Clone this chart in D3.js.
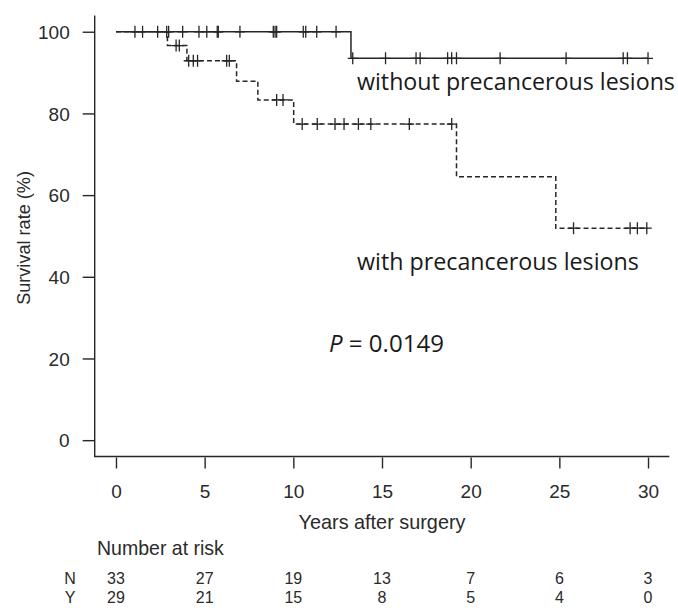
<!DOCTYPE html>
<html>
<head>
<meta charset="utf-8">
<script src="https://cdn.jsdelivr.net/npm/d3@7"></script>
<style>
  html, body { margin: 0; padding: 0; background: #fff; }
  svg { display: block; }
</style>
</head>
<body>
<svg id="chart" width="678" height="608"></svg>
<script>
// ---------------- data ----------------
const groupLabels = ["without precancerous lesions", "with precancerous lesions"];
// step curves (time in years, survival %)
const withoutTimes = [0, 13.25, 30.0];
const withoutSurv  = [100, 93.5, 93.5];
const withTimes = [0, 2.9, 4.0, 6.8, 8.0, 10.02, 19.2, 24.8, 30.0];
const withSurv  = [100, 96.6, 92.9, 87.9, 83.3, 77.4, 64.5, 51.9, 51.9];
// censoring marks (times)
const withoutCensor = [1.07, 1.5, 2.35, 2.86, 2.97, 3.76, 4.68, 5.12, 5.71, 5.77, 6.99,
  8.87, 8.97, 9.06, 10.56, 10.7, 11.32, 12.41,
  13.35, 15.2, 16.92, 17.15, 18.7, 18.93, 19.2, 21.66, 25.38, 28.6, 28.84, 30.0];
const withCensor = [3.39, 3.57, 4.1, 4.36, 4.6, 6.24, 6.39, 9.06, 9.42,
  10.5, 11.35, 12.35, 12.86, 13.67, 14.37, 16.54, 18.93, 25.8, 28.99, 29.4, 29.93];
const xTicks = [0, 5, 10, 15, 20, 25, 30];
const yTicks = [0, 20, 40, 60, 80, 100];
const riskRowLabels = ["N", "Y"];
const riskN = [33, 27, 19, 13, 7, 6, 3];
const riskY = [29, 21, 15, 8, 5, 4, 0];
const pValueText = "0.0149";

// ---------------- layout ----------------
const svg = d3.select("#chart");
const x = d3.scaleLinear().domain([-1.2, 31.2]).range([94.7, 669.3]);
const y = d3.scaleLinear().domain([-4, 104]).range([456.5, 15.4]);
const axisFont = "'Liberation Sans', Arial, sans-serif";
const labelFont = "'Open Sans', 'Noto Sans', sans-serif";
const textColor = "#2a2a2a";
const lineColor = "#262626";

function fit(sel, target) {
  const w = sel.node().getComputedTextLength();
  const fs = parseFloat(sel.attr("font-size"));
  sel.attr("font-size", (fs * target / w).toFixed(2));
  return sel;
}

// L box
svg.append("path")
  .attr("d", `M${x.range()[0]},${y.range()[1]} V${y.range()[0]} H${x.range()[1]}`)
  .attr("fill", "none").attr("stroke", lineColor).attr("stroke-width", 1.4);

// y axis
const yAxis = svg.append("g").attr("transform", `translate(${x.range()[0]},0)`)
  .call(d3.axisLeft(y).tickValues(yTicks).tickSize(12).tickPadding(13).tickFormat(d3.format("d")));
yAxis.select(".domain").remove();
yAxis.selectAll("line").attr("stroke", lineColor).attr("stroke-width", 1.4);
yAxis.selectAll("text").attr("font-family", axisFont).attr("font-size", 19)
  .attr("fill", textColor).attr("dy", "0.35em");

// x axis
const xAxis = svg.append("g").attr("transform", `translate(0,${y.range()[0] + 1})`)
  .call(d3.axisBottom(x).tickValues(xTicks).tickSize(11).tickPadding(0));
xAxis.select(".domain").remove();
xAxis.selectAll("line").attr("stroke", lineColor).attr("stroke-width", 1.4);
xAxis.selectAll("text").attr("font-family", axisFont).attr("font-size", 19)
  .attr("fill", textColor).attr("y", 34).attr("dy", "0.35em");

// axis titles
fit(svg.append("text").text("Survival rate (%)")
  .attr("transform", `translate(24,${(y(0) + y(100)) / 2 + 2}) rotate(-90)`)
  .attr("text-anchor", "middle").attr("dy", "0.35em")
  .attr("font-family", axisFont).attr("font-size", 18).attr("fill", textColor), 134);

fit(svg.append("text").text("Years after surgery")
  .attr("x", (x(0) + x(30)) / 2).attr("y", 522).attr("dy", "0.35em")
  .attr("text-anchor", "middle")
  .attr("font-family", axisFont).attr("font-size", 19).attr("fill", textColor), 167);

// curves
function stepLine(times, surv) {
  return d3.line().x((d, i) => x(times[i])).y((d, i) => y(surv[i])).curve(d3.curveStepAfter)(times);
}
function survAt(times, surv, t) {
  let v = surv[0];
  for (let i = 0; i < times.length; i++) if (times[i] <= t) v = surv[i];
  return v;
}

svg.append("path").attr("d", stepLine(withTimes, withSurv))
  .attr("fill", "none").attr("stroke", lineColor).attr("stroke-width", 1.5)
  .attr("stroke-dasharray", "5,3");
svg.append("path").attr("d", stepLine(withoutTimes, withoutSurv))
  .attr("fill", "none").attr("stroke", lineColor).attr("stroke-width", 1.5);

function marks(cls, times, surv, censor) {
  const g = svg.append("g").attr("class", cls)
    .attr("stroke", lineColor).attr("stroke-width", 1.3).attr("fill", "none");
  g.selectAll("path").data(censor).join("path")
    .attr("d", t => {
      const cx = x(t), cy = y(survAt(times, surv, t));
      return `M${cx - 5},${cy} H${cx + 5} M${cx},${cy - 6} V${cy + 6}`;
    });
}
marks("m-without", withoutTimes, withoutSurv, withoutCensor);
marks("m-with", withTimes, withSurv, withCensor);

// curve labels
fit(svg.append("text").text(groupLabels[0])
  .attr("x", 357).attr("y", 90)
  .attr("font-family", labelFont).attr("font-size", 19).attr("fill", "#1a1a1a"), 318);
fit(svg.append("text").text(groupLabels[1])
  .attr("x", 357).attr("y", 270)
  .attr("font-family", labelFont).attr("font-size", 19).attr("fill", "#1a1a1a"), 282);

const pt = svg.append("text").attr("x", 329).attr("y", 352)
  .attr("font-family", labelFont).attr("font-size", 19).attr("fill", "#1a1a1a");
pt.append("tspan").attr("font-style", "italic").text("P");
pt.append("tspan").text(" = " + pValueText);
fit(pt, 115);

// number at risk
fit(svg.append("text").text("Number at risk")
  .attr("x", 97).attr("y", 548).attr("dy", "0.35em")
  .attr("font-family", axisFont).attr("font-size", 19).attr("fill", textColor), 127);

const riskRows = [riskN, riskY];
const rowY = [578, 597];
riskRows.forEach((row, r) => {
  svg.append("text").text(riskRowLabels[r])
    .attr("x", 70).attr("y", rowY[r]).attr("dy", "0.35em").attr("text-anchor", "middle")
    .attr("font-family", axisFont).attr("font-size", 16).attr("fill", textColor);
  svg.append("g").selectAll("text").data(row).join("text")
    .text(d => d)
    .attr("x", (d, i) => x(xTicks[i])).attr("y", rowY[r]).attr("dy", "0.35em")
    .attr("text-anchor", "middle")
    .attr("font-family", axisFont).attr("font-size", 16).attr("fill", textColor);
});
</script>
</body>
</html>
